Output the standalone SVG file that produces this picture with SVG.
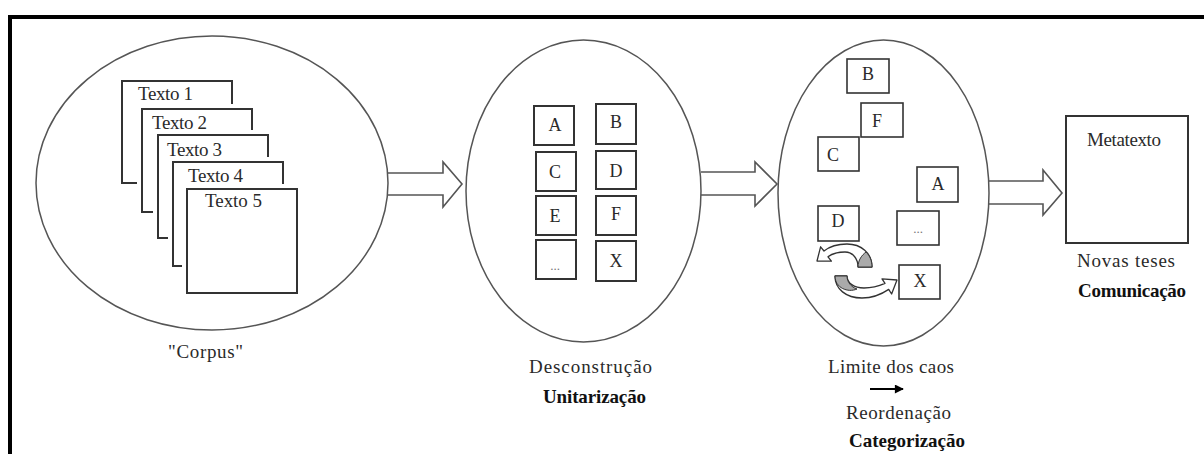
<svg xmlns="http://www.w3.org/2000/svg" width="1204" height="454" viewBox="0 0 1204 454">
  <style>
    .frame { fill: none; stroke: #000; stroke-width: 4; }
    .oval { fill: none; stroke: #555; stroke-width: 1.5; }
    .halo { fill: #fff; stroke: #fff; stroke-width: 10; }
    .page { fill: #fff; stroke: #333; stroke-width: 2; }
    .unit { fill: #fff; stroke: #333; stroke-width: 2; }
    .cat { fill: #fff; stroke: #333; stroke-width: 1.6; }
    .block { fill: #fff; stroke: #555; stroke-width: 1.6; stroke-linejoin: miter; }
    .swirl { fill: #fff; stroke: #333; stroke-width: 1.3; stroke-linejoin: round; }
    .shade { fill: #aaaaaa; stroke: #333; stroke-width: 1; }
    text { font-family: "Liberation Serif", "Times New Roman", serif; fill: #2a2a2a; }
    .t { font-size: 19px; }
    .b { font-size: 19px; font-weight: bold; fill: #111; }
    .l { font-size: 18px; text-anchor: middle; }
    .dots { font-size: 13px; text-anchor: middle; fill: #777; }
  </style>
  <defs>
    <marker id="head" viewBox="0 0 10 10" refX="9" refY="5" markerWidth="5" markerHeight="4.5" orient="auto" markerUnits="strokeWidth">
      <path d="M0 0 L10 5 L0 10 Z" fill="#000"/>
    </marker>
  </defs>

  <rect width="1204" height="454" fill="#fff"/>
  <!-- outer frame: top and left edges only -->
  <path class="frame" d="M10 454 V17 H1204"/>

  <!-- block arrows between the stages -->
  <g id="connectors">
    <path class="block" d="M388 173 H443 V162 L462 184 L443 207 V195 H388"/>
    <path class="block" d="M701 172 H755 V162 L777 184 L755 206 V195 H701"/>
    <path class="block" d="M988 181 H1043 V170 L1062 193 L1043 215 V204 H988"/>
  </g>

  <!-- stage 1: the corpus of texts -->
  <g id="corpus">
    <ellipse class="oval" cx="212" cy="183" rx="176" ry="147"/>
    <rect class="page" x="122" y="81" width="110" height="102"/>
    <text class="t" x="138" y="100" textLength="55">Texto 1</text>
    <rect class="halo" x="142" y="109" width="110" height="103"/>
    <rect class="page" x="142" y="109" width="110" height="103"/>
    <text class="t" x="152" y="129" textLength="55">Texto 2</text>
    <rect class="halo" x="158" y="135" width="110" height="103"/>
    <rect class="page" x="158" y="135" width="110" height="103"/>
    <text class="t" x="167" y="156" textLength="55">Texto 3</text>
    <rect class="halo" x="173" y="162" width="110" height="104"/>
    <rect class="page" x="173" y="162" width="110" height="104"/>
    <text class="t" x="188" y="182" textLength="55">Texto 4</text>
    <rect class="halo" x="187" y="189" width="110" height="104"/>
    <rect class="page" x="187" y="189" width="110" height="104"/>
    <text class="t" x="205" y="207" textLength="57">Texto 5</text>
    <text class="t" x="168" y="358" textLength="75">"Corpus"</text>
  </g>

  <!-- stage 2: deconstruction into units -->
  <g id="unitarizacao">
    <ellipse class="oval" cx="583.5" cy="191" rx="117.5" ry="151"/>
    <rect class="unit" x="534" y="106" width="40" height="39"/>
    <text class="l" x="555" y="131">A</text>
    <rect class="unit" x="596" y="104" width="40" height="40"/>
    <text class="l" x="616" y="128">B</text>
    <rect class="unit" x="536" y="152" width="40" height="39"/>
    <text class="l" x="555" y="178">C</text>
    <rect class="unit" x="596" y="151" width="40" height="38"/>
    <text class="l" x="616" y="177">D</text>
    <rect class="unit" x="536" y="196" width="40" height="39"/>
    <text class="l" x="555" y="222">E</text>
    <rect class="unit" x="596" y="196" width="40" height="39"/>
    <text class="l" x="616" y="220">F</text>
    <rect class="unit" x="536" y="240" width="40" height="39"/>
    <text class="dots" x="555" y="270">...</text>
    <rect class="unit" x="596" y="241" width="40" height="40"/>
    <text class="l" x="616" y="267">X</text>
    <text class="t" x="529" y="373" textLength="123">Desconstrução</text>
    <text class="b" x="543" y="403" textLength="103">Unitarização</text>
  </g>

  <!-- stage 3: reordering into categories -->
  <g id="categorizacao">
    <ellipse class="oval" cx="883.5" cy="193" rx="105.5" ry="153"/>
    <rect class="cat" x="847" y="59" width="42" height="34"/>
    <text class="l" x="868" y="80">B</text>
    <rect class="cat" x="861" y="103" width="42" height="34"/>
    <text class="l" x="877" y="127">F</text>
    <rect class="cat" x="818" y="137" width="41" height="34"/>
    <text class="l" x="833" y="161">C</text>
    <rect class="cat" x="917" y="167" width="41" height="35"/>
    <text class="l" x="938" y="190">A</text>
    <rect class="cat" x="818" y="206" width="41" height="35"/>
    <text class="l" x="838" y="227">D</text>
    <rect class="cat" x="897" y="211" width="42" height="34"/>
    <text class="dots" x="918" y="233">...</text>
    <rect class="cat" x="899" y="265" width="41" height="34"/>
    <text class="l" x="920" y="287">X</text>

    <!-- curved exchange arrows -->
    <path class="swirl" d="M872 267 C872 253 861 244 847 244 C838 244 829 247 824 251 L820.6 246.8 L817 261 L831.4 261.2 L828 256.8 C833 253 839 252 845 252 C853 252 858 259 858 267 Z"/>
    <path class="shade" d="M858 267 L872 267 C872 261 870 256 866 252 C862 255 858 260 858 267 Z"/>
    <path class="swirl" d="M835 276 C835 289 846 298 862 298 C873 298 882 294 888.7 289.4 L891.6 294 L897 280 L882 278.8 L885 283.4 C879 286 872 288 864 288 C854 288 847 283 847 276 Z"/>
    <path class="shade" d="M835 276 L847 276 C847 282 851 287 857 289 C848 293 835 288 835 276 Z"/>

    <text class="t" x="828" y="373" textLength="126">Limite dos caos</text>
    <line x1="870" y1="389" x2="903" y2="389" stroke="#000" stroke-width="2" marker-end="url(#head)"/>
    <text class="t" x="846" y="419" textLength="105">Reordenação</text>
    <text class="b" x="849" y="447" textLength="116">Categorização</text>
  </g>

  <!-- stage 4: the resulting metatext -->
  <g id="metatexto">
    <rect class="page" x="1066" y="116" width="122" height="127"/>
    <text class="t" x="1087" y="146" textLength="74">Metatexto</text>
    <text class="t" x="1077" y="267" textLength="98">Novas teses</text>
    <text class="b" x="1078" y="297" textLength="108">Comunicação</text>
  </g>
</svg>
